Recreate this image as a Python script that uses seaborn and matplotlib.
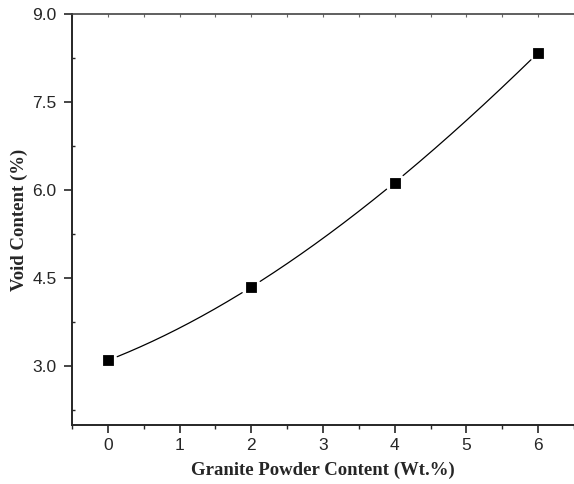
import numpy as np
import pandas as pd
import matplotlib
matplotlib.use("Agg")
import matplotlib.pyplot as plt
import seaborn as sns
from matplotlib.ticker import MultipleLocator

content = [0, 2, 4, 6]
void = [3.10, 4.35, 6.13, 8.34]
x_label = "Granite Powder Content (Wt.%)"
y_label = "Void Content (%)"

sns.set_style("ticks")
plt.rcParams["font.family"] = ["Liberation Sans", "DejaVu Sans"]

fig = plt.figure(figsize=(5.74, 4.84), dpi=100)
ax = fig.add_axes([72/574, 59/484, 1 - 72/574, (425 - 14)/484])

xmin, xmax, ymin, ymax = -0.5, 6.5, 2.0, 9.0
axw_px = 574 - 72
axh_px = 425 - 14
sx = axw_px / (xmax - xmin)
sy = axh_px / (ymax - ymin)

# smooth curve through the points, with gaps around the markers
coef = np.polyfit(content, void, 3)
xs = np.linspace(content[0], content[-1], 600)
ys = np.polyval(coef, xs)
mask = np.ones_like(xs, dtype=bool)
for px, py in zip(content, void):
    d = np.hypot((xs - px) * sx, (ys - py) * sy)
    mask &= d > 10
seg = np.cumsum(np.r_[0, np.diff(mask.astype(int)) != 0])
curve = pd.DataFrame({"x": xs, "y": ys, "seg": seg})[mask]
sns.lineplot(data=curve, x="x", y="y", units="seg", estimator=None,
             color="black", lw=0.9, ax=ax, sort=False)

pts = pd.DataFrame({"x": content, "y": void})
sns.scatterplot(data=pts, x="x", y="y", marker="s", s=55, color="black",
                edgecolor="black", ax=ax, zorder=5)

ax.set_xlim(xmin, xmax)
ax.set_ylim(ymin, ymax)
ax.xaxis.set_major_locator(MultipleLocator(1))
ax.xaxis.set_minor_locator(MultipleLocator(0.5))
ax.yaxis.set_minor_locator(MultipleLocator(0.75))
ax.set_yticks([3.0, 4.5, 6.0, 7.5, 9.0])
ax.set_yticklabels(["3.0", "4.5", "6.0", "7.5", "9.0"])
ax.set_xticks(range(0, 7))

ax.tick_params(axis="x", which="major", direction="out", length=6, width=1.2,
               labelsize=12.5, top=False)
ax.tick_params(axis="x", which="minor", direction="out", length=3, width=1.0, top=False)
ax.tick_params(axis="y", which="major", direction="out", length=6, width=1.2,
               labelsize=12.5, pad=5)
ax.tick_params(axis="y", which="minor", direction="in", length=2, width=1.0)

for s in ["left", "bottom"]:
    ax.spines[s].set_linewidth(1.4)
ax.spines["top"].set_linewidth(1.2)
ax.spines["top"].set_color("#444444")
ax.spines["right"].set_visible(False)

# tiny inward ticks along the top spine
sec = ax.secondary_xaxis("top")
sec.xaxis.set_major_locator(MultipleLocator(0.5))
sec.tick_params(direction="in", length=2, width=0.8, labelsize=0, labeltop=False,
                color="#666666")
sec.spines["top"].set_visible(False)

ax.set_xlabel(x_label, fontfamily="Liberation Serif", fontweight="bold",
              fontsize=13.5, labelpad=6)
ax.set_ylabel(y_label, fontfamily="Liberation Serif", fontweight="bold",
              fontsize=13.5, labelpad=3)

fig.savefig("out.png", dpi=100)
